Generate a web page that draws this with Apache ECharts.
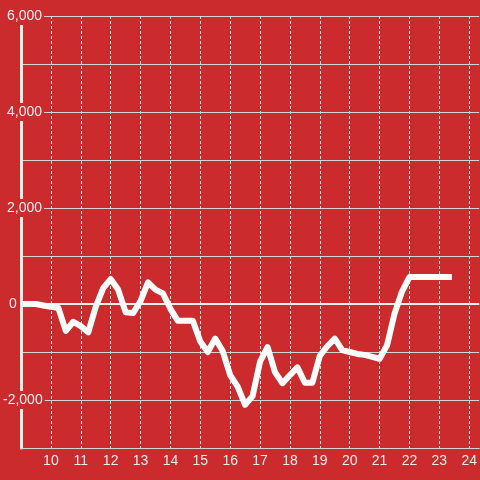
<!DOCTYPE html>
<html>
<head>
<meta charset="utf-8">
<script src="https://cdn.jsdelivr.net/npm/echarts@6/dist/echarts.min.js"></script>
<style>
html,body{margin:0;padding:0;background:#cc2b2e;}
#chart{width:480px;height:480px;}
</style>
</head>
<body>
<div id="chart"></div>
<script>
var hours = [9.00,9.25,9.50,9.75,10.00,10.25,10.50,10.75,11.00,11.25,11.50,11.75,12.00,12.25,12.50,12.75,13.00,13.25,13.50,13.75,14.00,14.25,14.50,14.75,15.00,15.25,15.50,15.75,16.00,16.25,16.50,16.75,17.00,17.25,17.50,17.75,18.00,18.25,18.50,18.75,19.00,19.25,19.50,19.75,20.00,20.25,20.50,20.75,21.00,21.25,21.50,21.75,22.00,22.25,22.50,22.75,23.00,23.25,23.42];
var values = [0,0,0,-30,-60,-80,-560,-370,-460,-590,-60,330,520,300,-170,-190,60,450,300,220,-100,-350,-350,-350,-780,-1000,-720,-980,-1480,-1720,-2100,-1920,-1200,-900,-1420,-1650,-1480,-1320,-1640,-1640,-1080,-880,-720,-960,-1000,-1040,-1060,-1100,-1140,-860,-200,260,560,560,560,560,560,560,560];
var xTickLabels = ['10','11','12','13','14','15','16','17','18','19','20','21','22','23','24'];
var yTickLabels = ['-2,000','0','2,000','4,000','6,000'];

var bg = '#cc2b2e';
var data = hours.map(function (h, i) { return [h, values[i]]; });

var chart = echarts.init(document.getElementById('chart'));
chart.setOption({
  backgroundColor: bg,
  animation: false,
  grid: { left: 20, right: 0, top: 16, bottom: 32, containLabel: false },
  xAxis: {
    type: 'value',
    min: 9,
    max: 24.3333,
    interval: 1,
    axisLine: { show: true, onZero: false, lineStyle: { color: '#d4d4d4', width: 1 } },
    axisTick: { show: false },
    splitLine: { show: true, showMinLine: false, showMaxLine: false, lineStyle: { color: '#e6e6e6', width: 1, type: [3, 2] } },
    axisLabel: {
      color: '#eeeeee',
      fontSize: 14,
      fontFamily: 'Liberation Sans, Arial, sans-serif',
      margin: 6,
      showMinLabel: false,
      showMaxLabel: false,
      formatter: function (v) {
        var s = String(Math.round(v));
        return (Math.abs(v - Math.round(v)) < 1e-6 && xTickLabels.indexOf(s) >= 0) ? s : '';
      }
    }
  },
  yAxis: {
    type: 'value',
    min: -3000,
    max: 6000,
    interval: 1000,
    axisLine: { show: true, lineStyle: { color: '#eeeeee', width: 3 } },
    axisTick: { show: false },
    splitLine: { show: true, lineStyle: { color: '#d4d4d4', width: 1 } },
    axisLabel: {
      inside: false,
      align: 'left',
      margin: 18,
      color: '#eeeeee',
      fontSize: 14,
      fontFamily: 'Liberation Sans, Arial, sans-serif',
      formatter: function (v) {
        var s = v.toLocaleString('en-US');
        if (yTickLabels.indexOf(s) < 0) return '';
        if (v < 0) return '{n|' + s + '}';
        if (v === 0) return '{z|' + s + '}';
        return '{p|' + s + '}';
      },
      rich: {
        n: { backgroundColor: bg, padding: [2, 2, 2, 0], color: '#eeeeee', fontSize: 14, fontFamily: 'Liberation Sans, Arial, sans-serif' },
        z: { backgroundColor: bg, padding: [2, 2, 2, 6], color: '#eeeeee', fontSize: 14, fontFamily: 'Liberation Sans, Arial, sans-serif' },
        p: { backgroundColor: bg, padding: [2, 2, 2, 4], color: '#eeeeee', fontSize: 14, fontFamily: 'Liberation Sans, Arial, sans-serif' }
      }
    }
  },
  series: [{
    type: 'line',
    data: data,
    showSymbol: false,
    symbol: 'none',
    lineStyle: { color: '#ffffff', width: 6, join: 'round' },
    z: 3,
    markLine: {
      silent: true,
      symbol: 'none',
      label: { show: false },
      lineStyle: { color: '#eeeeee', width: 2, type: 'solid' },
      data: [{ yAxis: 0 }],
      z: 1
    }
  }]
});
</script>
</body>
</html>
